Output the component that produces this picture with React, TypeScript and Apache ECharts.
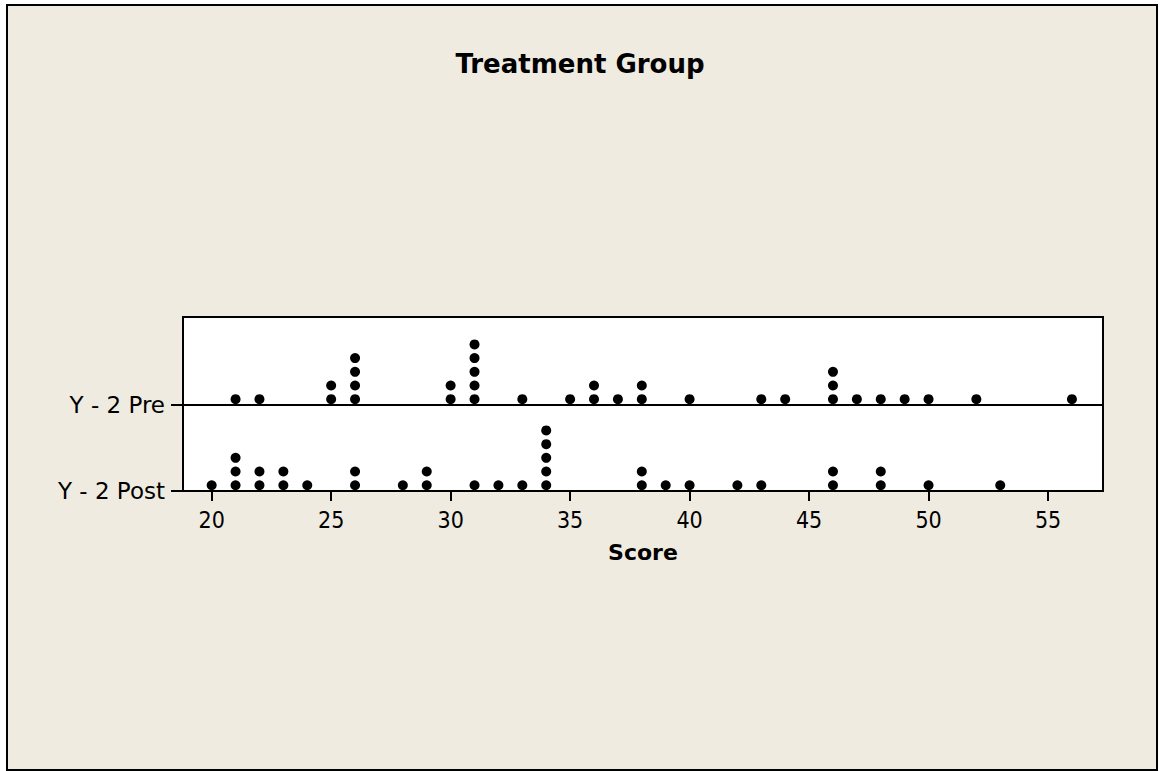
import React, { useEffect, useRef } from "react";
import * as echarts from "echarts";

// ---- Data ----
const TITLE = "Treatment Group";
const X_NAME = "Score";
const GROUPS = ["Y - 2 Post", "Y - 2 Pre"];
const PRE_SCORES = [
  21, 22, 25, 25, 26, 26, 26, 26, 30, 30, 31, 31, 31, 31, 31, 33, 35, 36, 36, 37,
  38, 38, 40, 43, 44, 46, 46, 46, 47, 48, 49, 50, 52, 56,
];
const POST_SCORES = [
  20, 21, 21, 21, 22, 22, 23, 23, 24, 26, 26, 28, 29, 29, 31, 32, 33, 34, 34, 34,
  34, 34, 38, 38, 39, 40, 42, 43, 46, 46, 48, 48, 50, 53,
];
const X_TICKS = [20, 25, 30, 35, 40, 45, 50, 55];
const X_MIN = 18.8;
const X_MAX = 57.3;

// stacking scale (in dot units)
const GROUP_GAP = 6.28;
const DOT_OFFSET = 0.42;
const Y_MAX = 12.7;

function stackPoints(scores: number[], base: number): number[][] {
  const counts: Record<number, number> = {};
  const pts: number[][] = [];
  for (const s of scores) {
    const k = counts[s] || 0;
    counts[s] = k + 1;
    pts.push([s, base + DOT_OFFSET + k]);
  }
  return pts;
}

const BG = "#EFEBE1";
const FONT = "'DejaVu Sans', Verdana, sans-serif";

export default function App() {
  const ref = useRef<HTMLDivElement>(null);
  useEffect(() => {
    if (!ref.current) return;
    const chart = echarts.init(ref.current, undefined, { renderer: "svg" });
    const baseValues = GROUPS.map((_, i) => i * GROUP_GAP);
    chart.setOption({
      animation: false,
      backgroundColor: "#ffffff",
      graphic: [
        {
          type: "rect",
          z: -10,
          shape: { x: 7, y: 5, width: 1150, height: 765 },
          style: { fill: BG, stroke: "#000", lineWidth: 2 },
          silent: true,
        },
      ],
      title: {
        text: TITLE,
        left: "center",
        top: 46,
        textStyle: { fontFamily: FONT, fontWeight: "bold", fontSize: 26, color: "#000" },
      },
      grid: {
        left: 183,
        right: 57,
        top: 317,
        bottom: 280,
        show: true,
        backgroundColor: "#ffffff",
        borderColor: "#000",
        borderWidth: 2,
        containLabel: false,
      },
      xAxis: {
        type: "value",
        min: X_MIN,
        max: X_MAX,
        name: X_NAME,
        nameLocation: "middle",
        nameGap: 50,
        nameTextStyle: { fontFamily: FONT, fontWeight: "bold", fontSize: 22, color: "#000" },
        axisLine: { show: true, onZero: false, lineStyle: { color: "#000", width: 2 } },
        axisTick: {
          show: true,
          inside: false,
          length: 10,
          customValues: X_TICKS,
          lineStyle: { color: "#000", width: 2 },
        },
        axisLabel: {
          customValues: X_TICKS,
          margin: 17,
          fontFamily: "'DejaVu Sans Condensed', 'DejaVu Sans', sans-serif",
          fontSize: 23,
          color: "#000",
        },
        splitLine: { show: false },
      },
      yAxis: {
        type: "value",
        min: 0,
        max: Y_MAX,
        axisLine: { show: true, onZero: false, lineStyle: { color: "#000", width: 2 } },
        axisTick: {
          show: true,
          length: 12,
          customValues: baseValues,
          lineStyle: { color: "#000", width: 2 },
        },
        axisLabel: {
          customValues: baseValues,
          margin: 18,
          fontFamily: FONT,
          fontSize: 23,
          color: "#000",
          formatter: (v: number) => {
            const i = baseValues.findIndex((b) => Math.abs(b - v) < 1e-6);
            return i >= 0 ? GROUPS[i] : "";
          },
        },
        splitLine: { show: false },
      },
      series: [
        {
          name: GROUPS[0],
          type: "scatter",
          symbol: "circle",
          symbolSize: 10,
          itemStyle: { color: "#000", opacity: 1 },
          data: stackPoints(POST_SCORES, baseValues[0]),
          silent: true,
        },
        {
          name: GROUPS[1],
          type: "scatter",
          symbol: "circle",
          symbolSize: 10,
          itemStyle: { color: "#000", opacity: 1 },
          data: stackPoints(PRE_SCORES, baseValues[1]),
          silent: true,
          markLine: {
            silent: true,
            symbol: ["none", "none"],
            label: { show: false },
            lineStyle: { color: "#000", width: 2, type: "solid" },
            data: [{ yAxis: baseValues[1] }],
          },
        },
      ],
    });
    return () => chart.dispose();
  }, []);
  return (
    <div
      ref={ref}
      style={{ position: "fixed", left: 0, top: 0, width: 1160, height: 771 }}
    />
  );
}
